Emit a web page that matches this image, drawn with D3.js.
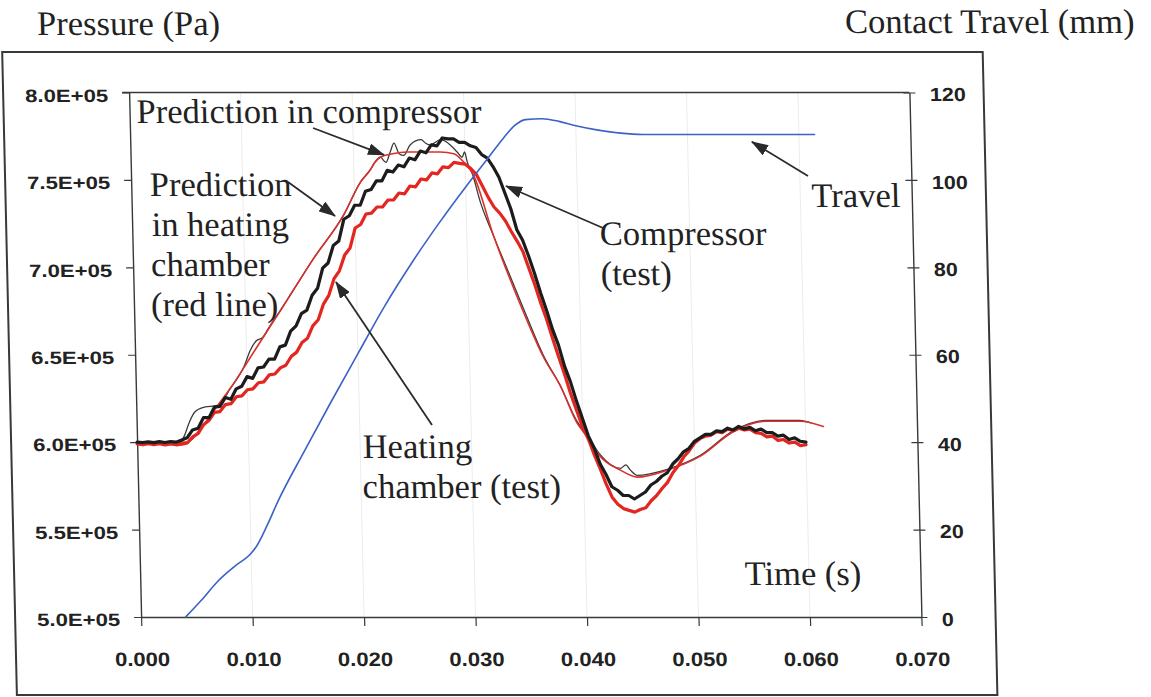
<!DOCTYPE html>
<html>
<head>
<meta charset="utf-8">
<script src="https://cdn.jsdelivr.net/npm/d3@7"></script>
<style>
  html, body { margin: 0; padding: 0; background: #fff; }
  svg { display: block; }
</style>
</head>
<body>
<svg id="chart" width="1151" height="697"></svg>
<script>
// ---------------- data ----------------
// Sample times (ms) of the two measured pressure traces
const testTimeMs = [
  0,0.5,1,1.5,2,2.5,3,3.5, 4,4.5,5,5.5,6,6.5,7,7.5,
  8,8.5,9,9.5,10,10.5,11,11.5, 12,12.5,13,13.5,14,14.5,15,15.5,
  16,16.5,17,17.5,18,18.5,19,19.5, 20,20.5,21,21.5,22,22.5,23,23.5,
  24,24.5,25,25.5,26,26.5,27,27.5, 28,28.5,29,29.5,30,30.5,31,31.5,
  32,32.5,33,33.5,34,34.5,35,35.5, 36,36.5,37,37.5,38,38.5,39,39.5,
  40,40.5,41,41.5,42,42.5,43,43.5, 44,44.5,45,45.5,46,46.5,47,47.5,
  48,48.5,49,49.5,50,50.5,51,51.5, 52,52.5,53,53.5,54,54.5,55,55.5,
  56,56.5,57,57.5,58,58.5,59,59.5, 60
];

// Compressor (test), pressure in units of 1E+05 Pa
const compressorTest = [
  6.000,5.998,6.002,5.997,6.003,5.998,6.004,6.000,
  6.012,6.025,6.070,6.080,6.140,6.140,6.200,6.205,
  6.255,6.245,6.305,6.320,6.375,6.365,6.425,6.430,
  6.475,6.475,6.545,6.555,6.635,6.665,6.735,6.755,
  6.840,6.880,6.995,7.025,7.125,7.150,7.275,7.295,
  7.355,7.355,7.435,7.445,7.495,7.495,7.555,7.545,
  7.585,7.575,7.625,7.615,7.665,7.655,7.700,7.695,
  7.740,7.735,7.735,7.715,7.715,7.695,7.685,7.645,
  7.625,7.575,7.515,7.425,7.335,7.215,7.155,7.065,
  6.965,6.855,6.755,6.645,6.555,6.435,6.345,6.235,
  6.135,6.035,5.965,5.875,5.815,5.745,5.725,5.695,
  5.695,5.675,5.695,5.715,5.755,5.775,5.805,5.825,
  5.875,5.905,5.945,5.965,6.005,6.025,6.045,6.045,
  6.065,6.060,6.080,6.070,6.090,6.075,6.085,6.065,
  6.075,6.055,6.055,6.035,6.040,6.015,6.025,6.005,
  6.000
];

// Heating chamber (test), pressure in units of 1E+05 Pa
const heatingTest = [
  5.990,5.985,5.992,5.986,5.991,5.984,5.990,5.985,
  5.988,5.995,6.030,6.050,6.100,6.125,6.170,6.175,
  6.215,6.220,6.260,6.265,6.300,6.305,6.340,6.345,
  6.385,6.390,6.425,6.440,6.490,6.515,6.570,6.595,
  6.665,6.700,6.790,6.840,6.935,6.980,7.070,7.110,
  7.225,7.245,7.305,7.310,7.345,7.345,7.385,7.385,
  7.425,7.420,7.465,7.460,7.505,7.500,7.540,7.535,
  7.575,7.570,7.600,7.595,7.590,7.565,7.530,7.465,
  7.400,7.345,7.310,7.265,7.205,7.150,7.090,6.995,
  6.900,6.795,6.700,6.590,6.485,6.385,6.275,6.180,
  6.085,6.015,5.925,5.845,5.760,5.685,5.645,5.620,
  5.610,5.600,5.615,5.625,5.665,5.695,5.735,5.770,
  5.825,5.865,5.915,5.950,5.995,6.020,6.035,6.040,
  6.060,6.055,6.075,6.065,6.080,6.070,6.075,6.055,
  6.050,6.030,6.035,6.010,6.015,5.995,6.000,5.980,
  5.985
];

// Prediction in heating chamber (red line)
const predHeatingTimeMs = [0,4.5,5.0,5.5,6.5,7.3,8.5,10.8,13.2,16.2,19.0,20.6,21.5,21.9,22.4,23.5,24.8,27.8,29.0,29.9,30.7,32.4,33.8,35.2,36.6,38.1,39.5,40.4,41.5,43.3,44.8,47.5,50.5,53.5,56.5,59.5,61.6];
const predHeating       = [6.00,6.00,6.02,6.06,6.14,6.21,6.31,6.53,6.76,7.05,7.30,7.49,7.56,7.60,7.63,7.65,7.66,7.66,7.65,7.60,7.53,7.18,6.93,6.70,6.49,6.32,6.11,6.03,5.92,5.84,5.80,5.84,5.92,6.06,6.12,6.12,6.09];

// Prediction in compressor
const predCompTimeMs = [0,3.8,4.2,4.7,5.2,6.1,7.3,8.5,9.8,10.3,10.9,11.5,12.0,13.2,16.2,19.0,20.6,21.5,21.9,22.4,22.9,23.3,23.65,24.1,24.5,25.1,26.1,26.5,26.9,27.85,28.7,29.3,29.75,29.97,30.2,30.6,31.3,32.4,33.8,35.2,36.6,38.1,39.5,40.4,41.5,43.3,43.8,44.2,44.8,47.5,50.5,53.5,56.5,59.5,60.5];
const predCompressor = [6.00,6.00,6.03,6.11,6.17,6.20,6.21,6.31,6.44,6.52,6.58,6.60,6.65,6.76,7.05,7.30,7.49,7.56,7.60,7.63,7.60,7.66,7.71,7.65,7.64,7.70,7.73,7.71,7.70,7.73,7.70,7.66,7.63,7.66,7.60,7.54,7.37,7.18,6.95,6.72,6.50,6.32,6.12,6.04,5.93,5.85,5.87,5.84,5.81,5.845,5.925,6.065,6.125,6.125,6.11];

// Contact travel (mm)
const travelTimeMs = [4.0,5.5,7.0,8.5,10.0,10.5,11.5,12.5,15.0,17.5,20.0,22.5,25.0,27.5,30.0,32.0,33.5,34.5,35.5,37.0,38.5,40.0,42.0,44.0,46.0,61.4];
const travelMm     = [0,4.0,8.3,11.6,14.6,16.2,21.0,26.4,38.0,49.3,60.3,71.2,81.0,90.0,98.4,104.8,109.6,112.4,113.8,114.0,113.4,112.4,111.4,110.7,110.4,110.4];

// Axis ticks
const timeTicks = [0, 0.01, 0.02, 0.03, 0.04, 0.05, 0.06, 0.07];
const pressureTicks = [500000, 550000, 600000, 650000, 700000, 750000, 800000];
const travelTicks = [0, 20, 40, 60, 80, 100, 120];

// ---------------- layout ----------------
const plot = { left: 127, right: 907.3, top: 92.5, bottom: 617 };
const SERIF = "'Liberation Serif', 'Times New Roman', serif";
const SANS = "'Liberation Sans', Arial, sans-serif";
const AXIS_COLOR = "#343b38";
const TEXT_COLOR = "#222";

const x = d3.scaleLinear().domain([0, 0.07]).range([plot.left, plot.right]);
const yP = d3.scaleLinear().domain([500000, 800000]).range([plot.bottom, plot.top]);
const yT = d3.scaleLinear().domain([0, 120]).range([plot.bottom, plot.top]);

const svg = d3.select("#chart");
// the whole figure is slightly sheared, as on the printed page
const root = svg.append("g").attr("transform", "skewX(1.31)");

// outer frame
root.append("rect")
  .attr("x", 1).attr("y", 52).attr("width", 980.5).attr("height", 643)
  .attr("fill", "none").attr("stroke", AXIS_COLOR).attr("stroke-width", 2);

// faint vertical gridlines
root.append("g").selectAll("line").data(timeTicks.slice(1, -1)).join("line")
  .attr("x1", d => x(d)).attr("x2", d => x(d))
  .attr("y1", plot.top).attr("y2", plot.bottom)
  .attr("stroke", "#ececec").attr("stroke-width", 1);

// plot box (top border)
root.append("line")
  .attr("x1", plot.left - 7).attr("x2", plot.right)
  .attr("y1", yP(800000)).attr("y2", yP(800000))
  .attr("stroke", AXIS_COLOR).attr("stroke-width", 1.4);

// left axis
const axL = root.append("g").attr("transform", `translate(${plot.left},0)`)
  .call(d3.axisLeft(yP).tickValues(pressureTicks).tickSize(7).tickSizeOuter(0)
    .tickFormat(d => (d / 1e5).toFixed(1) + "E+05"));
axL.select(".domain").attr("stroke", AXIS_COLOR).attr("stroke-width", 1.4);
axL.selectAll(".tick line").attr("stroke", AXIS_COLOR).attr("stroke-width", 1.2);
axL.selectAll(".tick text")
  .attr("x", 0).attr("dy", null).attr("y", 0)
  .attr("transform", "translate(-21,8.8) scale(1.23,1)")
  .attr("text-anchor", "end")
  .attr("font-family", SANS).attr("font-weight", "bold").attr("font-size", 18)
  .attr("fill", TEXT_COLOR);

// right axis
const axR = root.append("g").attr("transform", `translate(${plot.right},0)`)
  .call(d3.axisRight(yT).tickValues(travelTicks).tickSize(6).tickSizeOuter(0));
axR.select(".domain").attr("stroke", AXIS_COLOR).attr("stroke-width", 1.4);
axR.selectAll(".tick line").attr("x1", -6).attr("x2", 6)
  .attr("stroke", AXIS_COLOR).attr("stroke-width", 1.2);
axR.selectAll(".tick text")
  .attr("x", 0).attr("dy", null).attr("y", 0)
  .attr("transform", "translate(20.5,8.2) scale(1.13,1)")
  .attr("text-anchor", "start")
  .attr("font-family", SANS).attr("font-weight", "bold").attr("font-size", 19)
  .attr("fill", TEXT_COLOR);

// bottom axis
const axB = root.append("g").attr("transform", `translate(0,${plot.bottom})`)
  .call(d3.axisBottom(x).tickValues(timeTicks).tickSize(9).tickSizeOuter(0)
    .tickFormat(d3.format(".3f")));
axB.select(".domain").attr("stroke", AXIS_COLOR).attr("stroke-width", 1.4);
axB.selectAll(".tick line").attr("stroke", AXIS_COLOR).attr("stroke-width", 1.2);
axB.selectAll(".tick text")
  .attr("y", 0).attr("dy", null)
  .attr("transform", "translate(0,49) scale(1.13,1)")
  .attr("text-anchor", "middle")
  .attr("font-family", SANS).attr("font-weight", "bold").attr("font-size", 19.5)
  .attr("fill", TEXT_COLOR);

// ---------------- series ----------------
const zip = (ts, vs) => ts.map((t, i) => ({ t: t / 1000, v: vs[i] }));

const pLine = d3.line().x(d => x(d.t)).y(d => yP(d.v * 1e5));
const pSmooth = d3.line().x(d => x(d.t)).y(d => yP(d.v * 1e5)).curve(d3.curveMonotoneX);
const tLine = d3.line().x(d => x(d.t)).y(d => yT(d.v)).curve(d3.curveMonotoneX);

const series = root.append("g").attr("fill", "none")
  .attr("stroke-linejoin", "round").attr("stroke-linecap", "round");

series.append("path").datum(zip(predCompTimeMs, predCompressor))
  .attr("d", pSmooth).attr("stroke", "#3a3a3a").attr("stroke-width", 1.3);

series.append("path").datum(zip(predHeatingTimeMs, predHeating))
  .attr("d", pSmooth).attr("stroke", "#d9302c").attr("stroke-width", 1.6);

series.append("path").datum(zip(testTimeMs, heatingTest))
  .attr("d", pLine).attr("stroke", "#e3261f").attr("stroke-width", 3.2);

series.append("path").datum(zip(testTimeMs, compressorTest))
  .attr("d", pLine).attr("stroke", "#1c1c1c").attr("stroke-width", 3.2);

series.append("path").datum(zip(travelTimeMs, travelMm))
  .attr("d", tLine).attr("stroke", "#3b62c6").attr("stroke-width", 1.6);

// ---------------- annotations ----------------
svg.append("defs").append("marker")
  .attr("id", "head").attr("markerUnits", "userSpaceOnUse")
  .attr("viewBox", "0 0 17 12").attr("markerWidth", 17).attr("markerHeight", 12)
  .attr("refX", 16).attr("refY", 6).attr("orient", "auto")
  .append("path").attr("d", "M0,0 L17,6 L0,12 Z").attr("fill", "#2a2a2a");

// arrows: tail and tip in data units; scale "p" = pressure axis, "t" = travel axis
const arrows = [
  { from: [0.01643, 779700], to: [0.02274, 764300], scale: "p" },
  { from: [0.01407, 748800], to: [0.01822, 729400], scale: "p" },
  { from: [0.02649, 609800], to: [0.01817, 691600], scale: "p" },
  { from: [0.04224, 722500], to: [0.03362, 746500], scale: "p" },
  { from: [0.06073, 100.9], to: [0.05577, 108.7], scale: "t" }
];
root.append("g").selectAll("line").data(arrows).join("line")
  .attr("x1", d => x(d.from[0]))
  .attr("y1", d => (d.scale === "p" ? yP : yT)(d.from[1]))
  .attr("x2", d => x(d.to[0]))
  .attr("y2", d => (d.scale === "p" ? yP : yT)(d.to[1]))
  .attr("stroke", "#2a2a2a").attr("stroke-width", 1.8)
  .attr("marker-end", "url(#head)");

const labels = [
  { text: "Pressure (Pa)", x: 36.5, y: 35 },
  { text: "Contact Travel (mm)", x: 844.5, y: 33.5 },
  { text: "Prediction in compressor", x: 134, y: 123.5 },
  { text: "Prediction", x: 145.5, y: 196.5 },
  { text: "in heating", x: 146.5, y: 236.5 },
  { text: "chamber", x: 145, y: 276.5 },
  { text: "(red line)", x: 144, y: 316.5 },
  { text: "Heating", x: 352.5, y: 458 },
  { text: "chamber (test)", x: 351.5, y: 498 },
  { text: "Compressor", x: 594.5, y: 245 },
  { text: "(test)", x: 594.5, y: 285 },
  { text: "Travel", x: 807, y: 207 },
  { text: "Time (s)", x: 731.5, y: 585 }
];
root.append("g").selectAll("text").data(labels).join("text")
  .attr("x", d => d.x).attr("y", d => d.y)
  .attr("font-family", SERIF).attr("font-size", 34.5)
  .attr("fill", TEXT_COLOR)
  .text(d => d.text);
</script>
</body>
</html>
